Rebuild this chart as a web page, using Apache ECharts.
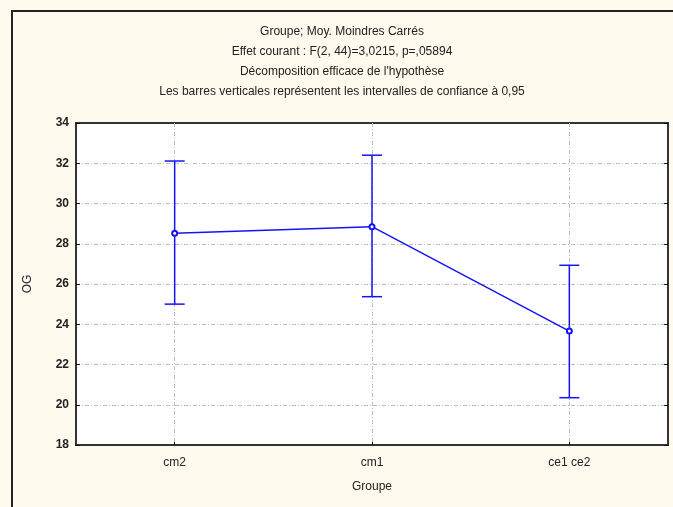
<!DOCTYPE html>
<html>
<head>
<meta charset="utf-8">
<script src="https://cdn.jsdelivr.net/npm/echarts@6/dist/echarts.min.js"></script>
<style>
  html, body { margin: 0; padding: 0; background: #fff9ee; }
  #frame { position: absolute; left: 11px; top: 10px; width: 662px; height: 497px; border-top: 2px solid #222; border-left: 2px solid #222; box-sizing: border-box; }
  #main { position: absolute; left: 0; top: 0; width: 673px; height: 507px; }
</style>
</head>
<body>
<div id="frame"></div>
<div id="main"></div>
<script>
// groupes
const categories = ['cm2', 'cm1', 'ce1 ce2']
// moyennes
const moyennes = [28.52, 28.85, 23.66]
// intervalles de confiance 0,95
const bornesInf = [25.0, 25.37, 20.35]
const bornesSup = [32.11, 32.4, 26.93]
const yTicks = { min: 18, max: 34, interval: 2 }

const titleLines = [
  'Groupe; Moy. Moindres Carrés',
  'Effet courant : F(2, 44)=3,0215, p=,05894',
  'Décomposition efficace de l\'hypothèse',
  'Les barres verticales représentent les intervalles de confiance à 0,95'
]

const bleu = '#1414f5'
const police = 'Arial, "Liberation Sans", sans-serif'
const gridStyle = { color: '#bdbdbd', width: 1, type: [4, 2, 1, 2] }

const errData = categories.map((c, i) => [i, bornesInf[i], bornesSup[i]])

const myChart = echarts.init(document.getElementById('main'))
const option = {
  backgroundColor: 'transparent',
  title: {
    text: titleLines.join('\n'),
    left: 342,
    top: 22,
    textAlign: 'center',
    padding: 0,
    textStyle: {
      fontFamily: police,
      fontSize: 12,
      fontWeight: 'normal',
      color: '#222',
      lineHeight: 20
    }
  },
  grid: {
    left: 76,
    right: 5,
    top: 123,
    bottom: 62,
    show: true,
    backgroundColor: '#fff',
    borderColor: '#333',
    borderWidth: 2
  },
  xAxis: {
    type: 'category',
    data: categories,
    boundaryGap: true,
    name: 'Groupe',
    nameLocation: 'middle',
    nameGap: 36,
    nameTextStyle: { fontFamily: police, fontSize: 12, color: '#222' },
    axisLine: { show: false },
    axisTick: { show: true, inside: true, alignWithLabel: true, length: 3, lineStyle: { color: '#111' } },
    axisLabel: { margin: 12, fontFamily: police, fontSize: 12, color: '#222' },
    splitLine: { show: true, alignWithLabel: true, lineStyle: gridStyle }
  },
  yAxis: [
    {
      type: 'value',
      min: yTicks.min,
      max: yTicks.max,
      interval: yTicks.interval,
      name: 'OG',
      nameLocation: 'middle',
      nameGap: 42,
      nameRotate: 90,
      nameTextStyle: { fontFamily: police, fontSize: 12, color: '#223' },
      axisLine: { show: false },
      axisTick: { show: true, inside: true, length: 4, lineStyle: { color: '#111' } },
      axisLabel: { margin: 7, fontFamily: police, fontSize: 12, fontWeight: 'bold', color: '#222' },
      splitLine: { show: true, showMinLine: false, showMaxLine: false, lineStyle: gridStyle }
    },
    {
      type: 'value',
      position: 'right',
      min: yTicks.min,
      max: yTicks.max,
      interval: yTicks.interval,
      axisLine: { show: false },
      axisTick: { show: true, inside: true, length: 4, lineStyle: { color: '#111' } },
      axisLabel: { show: false },
      splitLine: { show: false }
    }
  ],
  series: [
    {
      // barres verticales
      type: 'custom',
      data: errData,
      z: 3,
      renderItem(params, api) {
        const x = api.value(0)
        const lo = api.coord([x, api.value(1)])
        const hi = api.coord([x, api.value(2)])
        const half = 10
        const style = { stroke: bleu, lineWidth: 1.5, fill: null }
        return {
          type: 'group',
          children: [
            { type: 'line', shape: { x1: lo[0], y1: lo[1], x2: hi[0], y2: hi[1] }, style },
            { type: 'line', shape: { x1: hi[0] - half, y1: hi[1], x2: hi[0] + half, y2: hi[1] }, style },
            { type: 'line', shape: { x1: lo[0] - half, y1: lo[1], x2: lo[0] + half, y2: lo[1] }, style }
          ]
        }
      }
    },
    {
      // moyennes
      type: 'line',
      data: moyennes,
      z: 4,
      symbol: 'emptyCircle',
      symbolSize: 5,
      itemStyle: { color: bleu, borderWidth: 1.2 },
      lineStyle: { color: bleu, width: 1.5 },
      animation: false
    }
  ],
  animation: false
}
myChart.setOption(option)
</script>
</body>
</html>
